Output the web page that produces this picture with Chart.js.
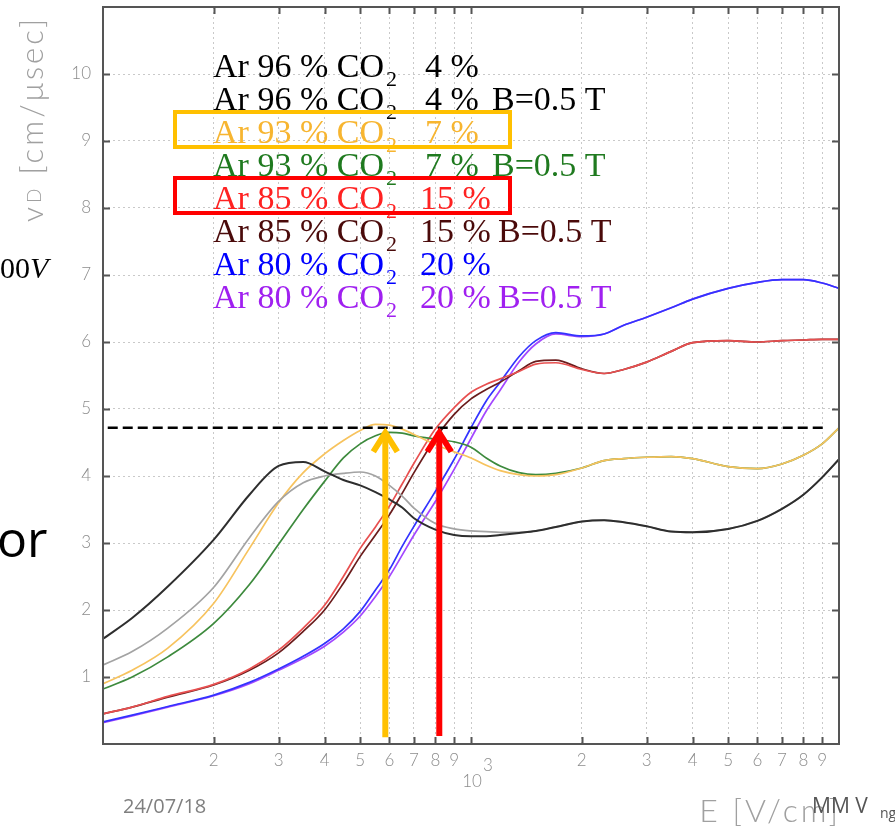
<!DOCTYPE html>
<html><head><meta charset="utf-8">
<script src="https://cdn.jsdelivr.net/npm/chart.js@4.4.1/dist/chart.umd.min.js"></script>
<style>html,body{margin:0;padding:0;background:#fff;overflow:hidden}canvas{display:block}</style>
</head><body>
<canvas id="c" width="895" height="827"></canvas>
<script>
// ---- data ----
const fieldE = [100,120,150,200,250,300,350,400,450,500,550,600,650,700,800,900,1000,1100,1200,1350,1500,1700,2000,2300,2600,3000,3500,4000,5000,6000,7000,8000,9000,10000];
const vdAr96   = [1.57,1.88,2.35,3.05,3.72,4.15,4.21,4.07,3.94,3.86,3.76,3.65,3.53,3.37,3.20,3.12,3.10,3.10,3.12,3.15,3.18,3.24,3.32,3.34,3.31,3.25,3.17,3.16,3.21,3.33,3.51,3.72,3.98,4.25];
const vdAr96B  = [1.18,1.38,1.73,2.34,3.08,3.62,3.90,4.00,4.04,4.06,4.00,3.86,3.70,3.52,3.29,3.21,3.18,3.17,3.16,3.16,3.18,3.24,3.32,3.34,3.31,3.25,3.17,3.16,3.21,3.33,3.51,3.72,3.98,4.25];
const vdAr93   = [0.90,1.10,1.43,2.10,2.92,3.60,4.05,4.33,4.53,4.68,4.77,4.76,4.70,4.62,4.47,4.36,4.27,4.16,4.08,4.02,4.00,4.02,4.12,4.23,4.26,4.28,4.29,4.26,4.14,4.11,4.18,4.31,4.48,4.72];
const vdAr93B  = [0.82,1.00,1.30,1.80,2.38,2.98,3.50,3.92,4.27,4.48,4.60,4.65,4.64,4.60,4.55,4.51,4.43,4.27,4.15,4.05,4.02,4.04,4.12,4.23,4.26,4.28,4.29,4.26,4.14,4.11,4.18,4.31,4.48,4.72];
const vdAr85   = [0.45,0.55,0.71,0.89,1.12,1.40,1.73,2.07,2.50,2.92,3.24,3.55,3.88,4.19,4.70,5.02,5.25,5.37,5.45,5.56,5.67,5.69,5.59,5.53,5.59,5.70,5.86,5.99,6.02,6.00,6.02,6.03,6.04,6.04];
const vdAr85B  = [0.45,0.55,0.70,0.88,1.10,1.36,1.68,2.00,2.40,2.80,3.12,3.42,3.74,4.05,4.56,4.92,5.15,5.29,5.40,5.57,5.71,5.73,5.60,5.53,5.59,5.70,5.86,5.99,6.02,6.00,6.02,6.03,6.04,6.04];
const vdAr80   = [0.33,0.43,0.56,0.73,0.92,1.12,1.31,1.50,1.72,1.98,2.30,2.60,2.95,3.25,3.77,4.25,4.72,5.12,5.40,5.78,6.02,6.14,6.09,6.12,6.25,6.37,6.51,6.64,6.80,6.89,6.93,6.93,6.88,6.80];
const vdAr80B  = [0.32,0.42,0.55,0.72,0.90,1.10,1.28,1.46,1.67,1.91,2.20,2.50,2.82,3.12,3.62,4.10,4.56,4.97,5.28,5.70,5.97,6.12,6.08,6.12,6.25,6.37,6.51,6.64,6.80,6.89,6.93,6.93,6.88,6.80];

const seriesLabels = [
  'Ar 96 % CO2  4 %',
  'Ar 96 % CO2  4 % B=0.5 T',
  'Ar 93 % CO2  7 %',
  'Ar 93 % CO2  7 % B=0.5 T',
  'Ar 85 % CO2  15 %',
  'Ar 85 % CO2  15 % B=0.5 T',
  'Ar 80 % CO2  20 %',
  'Ar 80 % CO2  20 % B=0.5 T'
];
const seriesValues = [vdAr96, vdAr96B, vdAr93, vdAr93B, vdAr85, vdAr85B, vdAr80, vdAr80B];

const xTickValues = [200,300,400,500,600,700,800,900,1000,2000,3000,4000,5000,6000,7000,8000,9000];
const xTickLabels = ['2','3','4','5','6','7','8','9','10^3','2','3','4','5','6','7','8','9'];
const yTickLabels = ['','1','2','3','4','5','6','7','8','9','10',''];

const thresholdVd = 4.72;          // dashed horizontal line
const dashedFieldRange = [103, 9300];
const arrowFields = [585, 820];    // E where arrows point
const arrowBase = [0.10, 0.12];
const highlightRows = [2, 4];      // legend rows with a frame

// ---- styles ----
const lineColors   = ['#2e2e2e','#a3a3a3','#f7c35e','#3d8a3d','#e85050','#6a1c1c','#3333ff','#a347ff'];
const legendColors = ['#000000','#000000','#f7b530','#1f7a1f','#ff2222','#4a0a0a','#0000ff','#a020f0'];
const arrowColors  = ['#ffc000','#ff0000'];
const highlightColors = ['#ffc000','#ff0000'];

const datasets = seriesValues.map((vals, i) => ({
  label: seriesLabels[i],
  data: fieldE.map((e, k) => ({x: e, y: vals[k]})),
  borderColor: lineColors[i],
  borderWidth: i === 0 ? 2 : 1.7,
  pointRadius: 0,
  fill: false,
  cubicInterpolationMode: 'monotone'
}));

const TICK_FONT = {family: 'Lato', size: 17, weight: '300'};
const GRAY = '#8c8c8c';

const decor = {
  id: 'decor',
  afterDatasetsDraw(chart) {
    const ctx = chart.ctx, ca = chart.chartArea;
    const xs = chart.scales.x, ys = chart.scales.y;
    ctx.save();
    // frame
    ctx.strokeStyle = '#555'; ctx.lineWidth = 2;
    ctx.strokeRect(ca.left, ca.top, ca.right - ca.left, ca.bottom - ca.top);
    // inner ticks
    ctx.beginPath();
    xTickValues.forEach(v => {
      const p = Math.round(xs.getPixelForValue(v)) + 0.5;
      ctx.moveTo(p, ca.bottom); ctx.lineTo(p, ca.bottom - 7);
      ctx.moveTo(p, ca.top); ctx.lineTo(p, ca.top + 7);
    });
    for (let v = 1; v <= 10; v++) {
      const p = Math.round(ys.getPixelForValue(v)) + 0.5;
      ctx.moveTo(ca.left, p); ctx.lineTo(ca.left + 7, p);
      ctx.moveTo(ca.right, p); ctx.lineTo(ca.right - 7, p);
    }
    ctx.lineWidth = 2; ctx.stroke();

    // 10^3 label
    const i1000 = xTickLabels.indexOf('10^3');
    const p1000 = xs.getPixelForValue(xTickValues[i1000]);
    ctx.fillStyle = GRAY;
    ctx.font = '300 17px Lato';
    ctx.textAlign = 'center'; ctx.textBaseline = 'middle';
    ctx.fillText('10', p1000 + 1, ca.bottom + 38);
    ctx.textAlign = 'left';
    ctx.fillText('3', p1000 + 12, ca.bottom + 22);

    // dashed threshold line
    const yT = ys.getPixelForValue(thresholdVd);
    ctx.strokeStyle = '#000'; ctx.lineWidth = 2.5; ctx.setLineDash([10, 5]);
    ctx.beginPath();
    ctx.moveTo(xs.getPixelForValue(dashedFieldRange[0]), yT);
    ctx.lineTo(xs.getPixelForValue(dashedFieldRange[1]), yT);
    ctx.stroke();
    ctx.setLineDash([]);

    // arrows
    arrowFields.forEach((e, i) => {
      const x = xs.getPixelForValue(e);
      const yb = ys.getPixelForValue(arrowBase[i]);
      ctx.strokeStyle = arrowColors[i]; ctx.lineWidth = 6; ctx.lineCap = 'butt'; ctx.lineJoin = 'miter';
      ctx.beginPath(); ctx.moveTo(x, yb); ctx.lineTo(x, yT + 4); ctx.stroke();
      ctx.beginPath(); ctx.moveTo(x - 12, yT + 24); ctx.lineTo(x, yT + 5); ctx.lineTo(x + 12, yT + 24); ctx.stroke();
    });

    // legend text
    const lx = ca.left + 110, ly0 = ca.top + 70, dy = 33;
    seriesLabels.forEach((s, i) => {
      const base = ly0 + i * dy;
      const [pre, postRaw] = s.split('CO2');
      const post = postRaw.trim();
      const twoDigit = /^\d\d/.test(post);
      const bIdx = post.indexOf('B=');
      const numPart = bIdx >= 0 ? post.slice(0, bIdx).trim() : post;
      const bPart = bIdx >= 0 ? post.slice(bIdx) : '';
      ctx.fillStyle = legendColors[i];
      ctx.textBaseline = 'alphabetic'; ctx.textAlign = 'left';
      ctx.font = '34px "Liberation Serif"';
      ctx.fillText(pre + 'CO', lx, base);
      const w = ctx.measureText(pre + 'CO').width;
      ctx.font = '22px "Liberation Serif"';
      ctx.fillText('2', lx + w + 2, base + 9);
      ctx.font = '34px "Liberation Serif"';
      ctx.fillText(numPart, lx + (twoDigit ? 207 : 212), base);
      if (bPart) ctx.fillText(bPart, lx + (twoDigit ? 285 : 279), base);
    });
    // highlight frames
    highlightRows.forEach((r, i) => {
      const base = ly0 + r * dy;
      ctx.strokeStyle = highlightColors[i]; ctx.lineWidth = 4;
      ctx.strokeRect(lx - 38, base - 31, 335, 35);
    });

    // axis titles
    ctx.fillStyle = '#a0a0a0';
    ctx.font = '300 32px Lato';
    ctx.letterSpacing = '3px';
    ctx.textAlign = 'right'; ctx.textBaseline = 'alphabetic';
    ctx.fillText('E [V/cm]', ca.right + 2, 822);
    // y title rotated
    ctx.save();
    ctx.translate(43, 222);
    ctx.rotate(-Math.PI / 2);
    ctx.textAlign = 'left';
    ctx.font = '300 30px Lato';
    ctx.fillText('v', 0, 0);
    let wv = ctx.measureText('v').width;
    ctx.font = '300 19px Lato';
    ctx.fillText('D', wv + 1, -2);
    let wd = ctx.measureText('D').width;
    ctx.font = '300 31px Lato';
    ctx.fillText('[cm/\u03bcsec]', wv + wd + 12, 0);
    ctx.restore();
    ctx.letterSpacing = '0px';

    // slide fragments around the chart
    ctx.textAlign = 'left';
    ctx.fillStyle = '#7f7f7f';
    ctx.font = '20px "Open Sans"';
    ctx.fillText('24/07/18', 123, 813);
    ctx.fillStyle = '#555';
    ctx.font = '21px "Open Sans"';
    ctx.fillText('MM V', 812, 813);
    ctx.font = '14px "Open Sans"';
    ctx.fillText('ng', 880, 818);
    ctx.fillStyle = '#000';
    ctx.font = '30px "Liberation Serif"';
    ctx.fillText('00', 0, 278);
    ctx.font = 'italic 30px "Liberation Serif"';
    ctx.fillText('V', 30, 278);
    ctx.font = '50px "Open Sans"';
    ctx.fillText('or', -3, 557);
    ctx.restore();
  }
};

new Chart(document.getElementById('c'), {
  type: 'line',
  data: { datasets },
  options: {
    responsive: false, animation: false, devicePixelRatio: 1,
    layout: { padding: { top: 7, right: 56, left: 0, bottom: 0 } },
    plugins: { legend: { display: false }, tooltip: { enabled: false } },
    scales: {
      x: {
        type: 'logarithmic', min: 100, max: 10000,
        afterBuildTicks: s => { s.ticks = xTickValues.map(v => ({ value: v })); },
        afterFit: s => { s.height = 83; s.paddingLeft = 0; s.paddingRight = 0; },
        ticks: {
          autoSkip: false, maxRotation: 0, padding: 6, color: GRAY, font: TICK_FONT,
          callback: (v, i) => xTickLabels[i] === '10^3' ? '' : xTickLabels[i]
        },
        grid: { color: '#c9c9c9', lineWidth: 1, drawTicks: false },
        border: { display: false, dash: [2, 3] }
      },
      y: {
        type: 'linear', min: 0, max: 11,
        afterFit: s => { s.width = 103; s.paddingTop = 0; s.paddingBottom = 0; },
        ticks: {
          stepSize: 1, padding: 12, color: GRAY, font: TICK_FONT,
          callback: (v) => yTickLabels[Math.round(v)]
        },
        grid: { color: '#c9c9c9', lineWidth: 1, drawTicks: false },
        border: { display: false, dash: [2, 3] }
      }
    }
  },
  plugins: [decor]
});
</script>
</body></html>
